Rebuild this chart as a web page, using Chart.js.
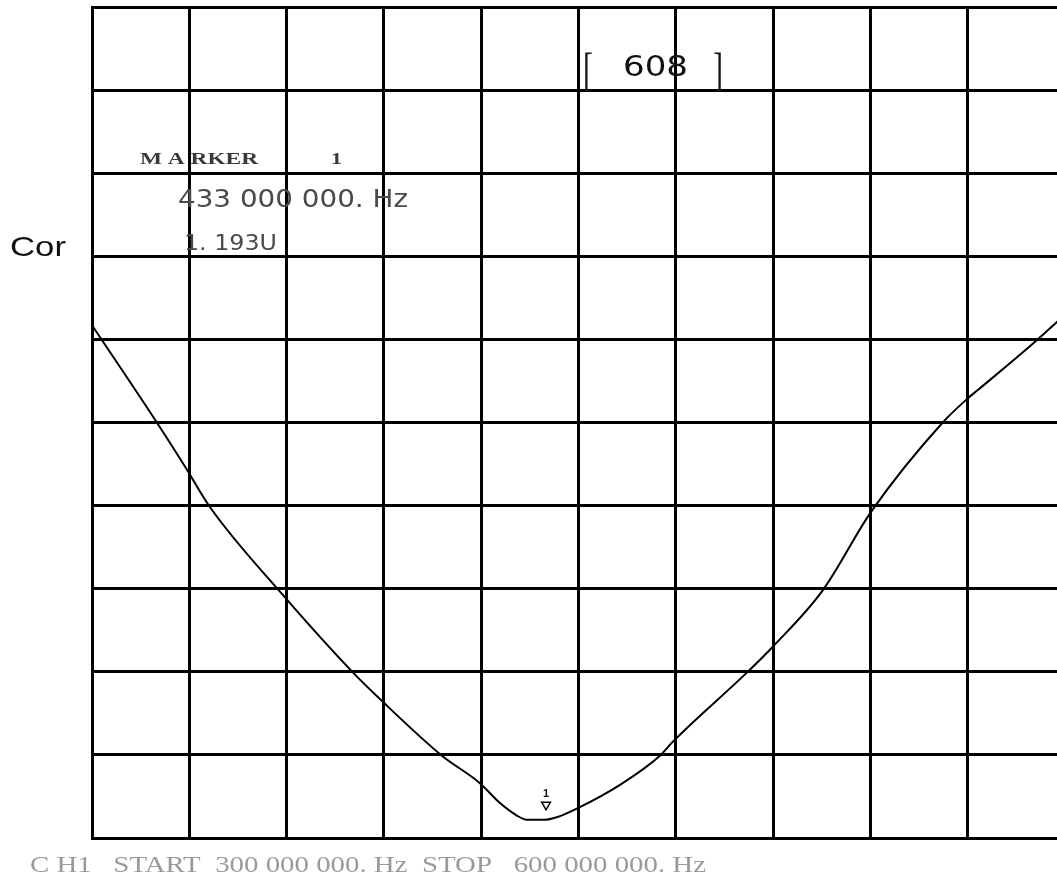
<!DOCTYPE html>
<html>
<head>
<meta charset="utf-8">
<script src="https://cdn.jsdelivr.net/npm/chart.js@4.4.1/dist/chart.umd.min.js"></script>
<style>
  html, body { margin: 0; padding: 0; background: #ffffff; overflow: hidden; width: 1057px; height: 877px; }
  #wrap { width: 1075px; height: 877px; }
</style>
</head>
<body>
<div id="wrap"><canvas id="c" width="1075" height="877"></canvas></div>
<script>
// Sweep frequency (MHz) and trace level (divisions, 0 = bottom graticule line)
const freqMHz = [300, 303.1, 320.0, 329.0, 336.4, 358.5, 380.5, 389.1, 407.9, 419.6, 425.8, 431.0, 434.1, 439.6, 443.3, 449.8, 462.8, 475.1, 479.1, 501.9, 509.6, 525.3, 540.3, 562.3, 570.0, 573.1, 591.3, 597.5, 600];
const traceLevel = [6.17, 5.99, 5.00, 4.45, 3.98, 2.94, 1.99, 1.66, 0.99, 0.66, 0.42, 0.27, 0.22, 0.22, 0.25, 0.36, 0.64, 0.99, 1.16, 1.99, 2.29, 2.98, 3.93, 5.00, 5.29, 5.39, 5.99, 6.21, 6.30];
// Marker 1 glyph position
const markerFreq = [440];
const markerLevel = [0.40];
// Graticule
const xTicksMHz = [300, 330, 360, 390, 420, 450, 480, 510, 540, 570, 600];
const yTicksDiv = [0, 1, 2, 3, 4, 5, 6, 7, 8, 9, 10];
// Annotation texts
const yLabel = 'Cor';
const markerTitle = 'M A RKER';
const markerNum = '1';
const markerFreqText = '433 000 000. Hz';
const markerValueText = '1. 193U';
const scaleText = '608';
const footerText = 'C H1   START  300 000 000. Hz  STOP   600 000 000. Hz';

function drawFit(ctx, text, x, y, width, font, color) {
  ctx.save();
  ctx.font = font;
  ctx.fillStyle = color;
  ctx.textBaseline = 'alphabetic';
  ctx.textAlign = 'left';
  const w = ctx.measureText(text).width;
  ctx.translate(x, y);
  ctx.scale(width / w, 1);
  ctx.fillText(text, 0, 0);
  ctx.restore();
}

const annotations = {
  id: 'annotations',
  afterDraw(chart) {
    const ctx = chart.ctx;
    const xs = chart.scales.x, ys = chart.scales.y;
    // y label
    drawFit(ctx, yLabel, 10, 256, 56, '28px "Liberation Sans"', '#111');
    // marker readout
    drawFit(ctx, markerTitle, 140, 164, 118, 'bold 17px "Liberation Serif"', '#3a3a3a');
    drawFit(ctx, markerNum, 331, 164, 11, 'bold 17px "Liberation Serif"', '#3a3a3a');
    drawFit(ctx, markerFreqText, 178, 207, 230, '24px "DejaVu Sans"', '#4a4a4a');
    drawFit(ctx, markerValueText, 184, 250, 93, '22px "DejaVu Sans"', '#4a4a4a');
    // scale box
    drawFit(ctx, '[', 583, 85, 10, '46px "Liberation Serif"', '#111');
    drawFit(ctx, scaleText, 623, 76, 65, '28px "DejaVu Sans"', '#111');
    drawFit(ctx, ']', 713, 85, 10, '46px "Liberation Serif"', '#111');
    // footer
    drawFit(ctx, footerText, 30, 872, 676, '23px "Liberation Serif"', '#9a9a9a');
    // marker number above the marker glyph
    ctx.save();
    ctx.font = 'bold 11px "Liberation Sans"';
    ctx.fillStyle = '#111';
    ctx.textAlign = 'center';
    ctx.textBaseline = 'bottom';
    ctx.fillText(markerNum, xs.getPixelForValue(markerFreq[0]), ys.getPixelForValue(markerLevel[0]) - 5);
    ctx.restore();
  }
};

const gridOpts = { color: '#000', lineWidth: 3, drawTicks: false };

new Chart(document.getElementById('c'), {
  type: 'line',
  data: {
    datasets: [
      {
        data: freqMHz.map((f, i) => ({ x: f, y: traceLevel[i] })),
        borderColor: '#000',
        borderWidth: 2,
        pointRadius: 0,
        fill: false,
        cubicInterpolationMode: 'monotone'
      },
      {
        data: markerFreq.map((f, i) => ({ x: f, y: markerLevel[i] })),
        showLine: false,
        pointStyle: 'triangle',
        rotation: 180,
        pointRadius: 5,
        borderColor: '#000',
        borderWidth: 1.5,
        backgroundColor: '#fff'
      }
    ]
  },
  options: {
    responsive: false,
    devicePixelRatio: 1,
    animation: false,
    layout: { padding: { left: 92, top: 7, right: 10, bottom: 39 } },
    plugins: { legend: { display: false }, tooltip: { enabled: false }, title: { display: false } },
    scales: {
      x: {
        type: 'linear',
        min: 300, max: 600,
        afterBuildTicks: s => { s.ticks = xTicksMHz.map(v => ({ value: v })); },
        ticks: { display: false },
        grid: gridOpts,
        border: { color: '#000', width: 3 }
      },
      y: {
        type: 'linear',
        min: 0, max: 10,
        afterBuildTicks: s => { s.ticks = yTicksDiv.map(v => ({ value: v })); },
        ticks: { display: false },
        grid: gridOpts,
        border: { color: '#000', width: 3 }
      }
    }
  },
  plugins: [annotations]
});
</script>
</body>
</html>
